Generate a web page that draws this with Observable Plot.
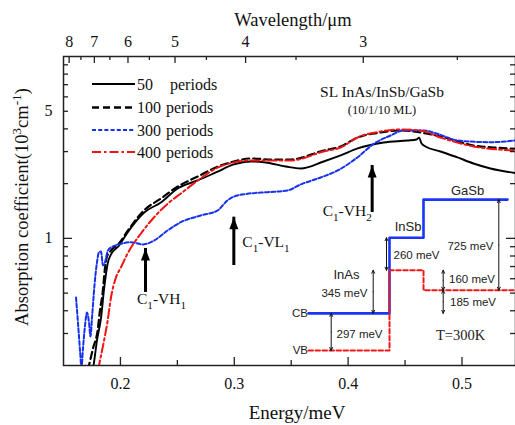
<!DOCTYPE html>
<html><head><meta charset="utf-8">
<script src="https://cdn.jsdelivr.net/npm/d3@7"></script>
<script src="https://cdn.jsdelivr.net/npm/@observablehq/plot@0.6"></script>
<style>
html,body{margin:0;padding:0;background:#fff;}
#wrap{position:relative;width:515px;height:425px;overflow:hidden;}
#wrap svg{position:absolute;left:0;top:0;}
</style></head><body><div id="wrap"></div>
<script>
// ---------- data (photon energy in eV, absorption in 10^3 cm^-1) ----------
const E50 = [0.1755,0.1765,0.1794,0.1829,0.1858,0.1888,0.1917,0.1989,0.2063,0.2209,0.2355,0.2502,0.2677,0.2838,0.2996,0.3145,0.3276,0.3452,0.3583,0.3785,0.3934,0.4083,0.4311,0.4522,0.4601,0.4623,0.4645,0.4680,0.4811,0.4961,0.5101,0.5250,0.5469];
const A50 = [0.19,0.203,0.275,0.363,0.537,0.728,0.816,0.914,1.078,1.388,1.575,1.881,2.081,2.303,2.549,2.647,2.614,2.485,2.423,2.647,2.856,3.121,3.367,3.453,3.497,3.58,3.324,3.201,3.004,2.785,2.581,2.423,2.288];

const E100 = [0.1715,0.1726,0.1759,0.1800,0.1820,0.1844,0.1864,0.1882,0.1917,0.1987,0.2066,0.2206,0.2355,0.2504,0.2680,0.2838,0.2996,0.3145,0.3320,0.3496,0.3785,0.3934,0.4083,0.4285,0.4461,0.4610,0.4811,0.5101,0.5311,0.5469];
const A100 = [0.19,0.203,0.248,0.312,0.401,0.504,0.683,0.795,0.858,0.937,1.105,1.423,1.657,1.929,2.189,2.454,2.647,2.750,2.715,2.715,3.042,3.201,3.587,3.821,3.920,3.845,3.633,3.242,3.148,3.109];

const E300 = [0.1610,0.1627,0.1645,0.1658,0.1671,0.1689,0.1706,0.1724,0.1737,0.1750,0.1772,0.1794,0.1811,0.1829,0.1847,0.1864,0.1890,0.1934,0.1987,0.2092,0.2195,0.2297,0.2414,0.2531,0.2706,0.2853,0.2940,0.2998,0.3116,0.3291,0.3467,0.3583,0.3759,0.3908,0.4081,0.4226,0.4373,0.4487,0.4662,0.4785,0.4961,0.5250,0.5469];
const A300 = [0.473,0.345,0.242,0.195,0.248,0.332,0.391,0.345,0.289,0.363,0.551,0.737,0.837,0.847,0.710,0.737,0.858,0.903,0.926,0.953,0.926,0.974,1.105,1.228,1.336,1.423,1.616,1.699,1.759,1.795,1.834,1.979,2.162,2.362,2.785,3.312,3.679,3.920,3.920,3.758,3.453,3.380,3.453];

const E400 = [0.1806,0.1814,0.1844,0.1888,0.1917,0.1961,0.2004,0.2063,0.2180,0.2294,0.2417,0.2531,0.2680,0.2838,0.2996,0.3145,0.3320,0.3496,0.3785,0.3934,0.4083,0.4285,0.4461,0.4636,0.4811,0.5101,0.5311,0.5469];
const A400 = [0.19,0.203,0.251,0.354,0.473,0.610,0.692,0.826,1.064,1.303,1.555,1.765,2.081,2.423,2.614,2.682,2.682,2.682,3.004,3.160,3.587,3.870,3.970,3.920,3.587,3.201,3.082,3.042];

const seriesNames = ["50", "100", "300", "400"];

// transitions marked by arrows
const transLabels = [["C","1","-VH","1"],["C","1","-VL","1"],["C","1","-VH","2"]];
const transE = [0.222, 0.2996, 0.4211];
const transTip = [0.88, 1.308, 2.516];
const transTail = [0.565, 0.795, 1.555];

// ticks
const energyTicks = [0.2, 0.3, 0.4, 0.5];
const energyMinor = [0.25, 0.35, 0.45];
const lambdaTicks = [8, 7, 6, 5, 4, 3];
const lambdaMinor = [7.5, 6.5, 5.5, 4.5, 3.5, 2.5];
const absLabelTicks = [1, 5];
const absMinor = [0.3,0.4,0.5,0.6,0.7,0.8,0.9,2,3,4,5,6,7,8,9];
const hc = 1.2398; // eV·µm

// band diagram inset (meV)
const layers = ["InAs", "InSb", "GaSb"];
const layerEdges = [0, 81, 115, 199];
const cbLevel = [297, 902, 1207];
const vbLevel = [0, 642, 482];

// ---------- layout ----------
const W = 515, H = 425, mL = 63, mR = 0, mT = 56, mB = 60;
const fh = H - mT - mB, fw = W - mL - mR;
const serif = "'Liberation Serif', 'Times New Roman', serif";
const sans = "'Liberation Sans', Arial, sans-serif";

const styles = [
  {color: "#000", width: 1.9, dash: null},
  {color: "#000", width: 2.2, dash: "7,4"},
  {color: "#1630f0", width: 2, dash: "4,2.2"},
  {color: "#f01414", width: 2, dash: "9,3,2.5,3"}
];
const seriesData = [[E50, A50], [E100, A100], [E300, A300], [E400, A400]].map(([E, A]) => E.map((e, i) => ({E: e, A: A[i]})));

const triHead = {draw(ctx) { ctx.moveTo(0, 0); ctx.lineTo(4.5, 12); ctx.lineTo(-4.5, 12); ctx.closePath(); }};
const idx = transE.map((_, i) => i);
const frameCol = "#222";

const chart = Plot.plot({
  width: W, height: H, marginLeft: mL, marginRight: mR, marginTop: mT, marginBottom: mB,
  style: {fontFamily: serif, background: "transparent", overflow: "visible"},
  x: {domain: [0.15, 0.547], axis: null},
  y: {type: "log", domain: [0.2, 10], axis: null},
  marks: [
    ...seriesData.map((d, i) => Plot.line(d, {x: "E", y: "A", stroke: styles[i].color, strokeWidth: styles[i].width, strokeDasharray: styles[i].dash, curve: "monotone-x", clip: true})),
    // transition arrows
    Plot.ruleX(idx, {x: i => transE[i], y1: i => transTail[i], y2: i => transTip[i], stroke: "#000", strokeWidth: 3, insetTop: 9}),
    Plot.dot(idx, {x: i => transE[i], y: i => transTip[i], symbol: triHead, fill: "#000", stroke: "none"}),
    // frame and ticks
    Plot.frame({stroke: frameCol, strokeWidth: 1.5}),
    Plot.ruleX(energyTicks, {x: d => d, insetTop: fh - 8, stroke: frameCol, strokeWidth: 1.3}),
    Plot.ruleX(energyMinor, {x: d => d, insetTop: fh - 5, stroke: frameCol, strokeWidth: 1.3}),
    Plot.ruleX(lambdaTicks, {x: l => hc / l, insetBottom: fh - 7, stroke: frameCol, strokeWidth: 1.3}),
    Plot.ruleX(lambdaMinor, {x: l => hc / l, insetBottom: fh - 4, stroke: frameCol, strokeWidth: 1.3}),
    Plot.ruleY([1], {y: d => d, insetRight: fw - 9, stroke: frameCol, strokeWidth: 1.3}),
    Plot.ruleY(absMinor, {y: d => d, insetRight: fw - 5, stroke: frameCol, strokeWidth: 1.3}),
    Plot.ruleY([1], {y: d => d, insetLeft: fw - 9, stroke: frameCol, strokeWidth: 1.3}),
    Plot.ruleY(absMinor, {y: d => d, insetLeft: fw - 5, stroke: frameCol, strokeWidth: 1.3}),
    // tick labels
    Plot.text(energyTicks, {x: d => d, frameAnchor: "bottom", lineAnchor: "middle", dy: 18, text: d => d.toFixed(1), fontSize: 16, fill: "#111"}),
    Plot.text(lambdaTicks, {x: l => hc / l, frameAnchor: "top", lineAnchor: "middle", dy: -15, text: d => String(d), fontSize: 16, fill: "#111"}),
    Plot.text(absLabelTicks, {y: d => d, frameAnchor: "left", lineAnchor: "middle", dx: -11, textAnchor: "end", text: d => String(d), fontSize: 16, fill: "#111"})
  ]
});

const inset = Plot.plot({
  width: W, height: H, margin: 0,
  style: {fontFamily: sans, background: "transparent", overflow: "visible"},
  x: {domain: [0, 200], range: [308, 508], axis: null},
  y: {domain: [0, 1207], range: [350, 199.1], axis: null},
  marks: (() => {
    const step = (lv, ext) => lv.flatMap((v, i) => [{x: layerEdges[i], e: v}, {x: layerEdges[i + 1] + (i === lv.length - 1 ? ext : 0), e: v}]);
    const gaps = [
      {x: 22.7, a: vbLevel[0], b: cbLevel[0], lx: 28, ly: 128, anchor: "start"},
      {x: 64.7, a: cbLevel[0], b: vbLevel[1], lx: 59, ly: 458, anchor: "end"},
      {x: 78, a: vbLevel[1], b: cbLevel[1], lx: 85, ly: 760, anchor: "start"},
      {x: 190.3, a: vbLevel[2], b: cbLevel[2], lx: 185, ly: 832, anchor: "end"},
      {x: 134.7, a: vbLevel[2], b: vbLevel[1], lx: 140.5, ly: 566, anchor: "start"},
      {x: 134.7, a: cbLevel[0], b: vbLevel[2], lx: 141.5, ly: 386, anchor: "start"}
    ];
    const arrows = gaps.flatMap(g => [{x: g.x, y1: (g.a + g.b) / 2, y2: g.b}, {x: g.x, y1: (g.a + g.b) / 2, y2: g.a}]);
    const gapText = g => `${Math.abs(g.b - g.a)} meV`;
    return [
      Plot.line(step(cbLevel, 0), {x: "x", y: "e", stroke: "#1a35f5", strokeWidth: 2.6}),
      Plot.line(step(vbLevel, 6), {x: "x", y: "e", stroke: "#f01818", strokeWidth: 2, strokeDasharray: "4.5,2.5"}),
      Plot.arrow(arrows, {x1: "x", x2: "x", y1: "y1", y2: "y2", stroke: "#111", strokeWidth: 1, headLength: 5, headAngle: 50}),
      Plot.text(gaps.filter(g => g.anchor === "start"), {x: "lx", y: "ly", text: gapText, textAnchor: "start", fontSize: 11.5, fill: "#222"}),
      Plot.text(gaps.filter(g => g.anchor === "end"), {x: "lx", y: "ly", text: gapText, textAnchor: "end", fontSize: 11.5, fill: "#222"}),
      Plot.text(layers, {x: [38, 99.5, 159], y: [608, 992, 1274], text: d => d, fontSize: 13, fill: "#222"}),
      Plot.text(["CB", "VB"], {x: [-0.5, -0.5], y: [cbLevel[0], vbLevel[0]], text: d => d, textAnchor: "end", fontSize: 11.5, fill: "#222"}),
      Plot.text(["T=300K"], {x: [152], y: [120], text: d => d, fontSize: 14.5, fill: "#222"})
    ];
  })()
});

const wrap = document.getElementById("wrap");
wrap.appendChild(chart);
wrap.appendChild(inset);

// ---------- text annotations ----------
const svg = d3.select(chart);
const sx = chart.scale("x"), sy = chart.scale("y");

function addText(x, y, s, size, anchor) {
  return svg.append("text").attr("x", x).attr("y", y).attr("text-anchor", anchor || "start")
    .attr("font-size", size).attr("fill", "#111").text(s);
}
function richText(x, y, parts, size, opts = {}) {
  const t = svg.append("text").attr("x", x).attr("y", y).attr("font-size", size).attr("fill", "#111")
    .attr("text-anchor", opts.anchor || "start");
  if (opts.transform) t.attr("transform", opts.transform);
  let shift = 0;
  parts.forEach(([s, k]) => {
    const target = k === 1 ? size * 0.3 : k === -1 ? -size * 0.4 : 0;
    const ts = t.append("tspan").text(s).attr("dy", target - shift);
    if (k !== 0) ts.attr("font-size", size * 0.72);
    shift = target;
  });
  return t;
}

// axis titles
addText(293, 26, "Wavelength/μm", 18.5, "middle");
addText(297, 419, "Energy/meV", 19, "middle");
richText(0, 0, [["Absorption coefficient(10", 0], ["3", -1], ["cm", 0], ["-1", -1], [")", 0]], 18.5,
  {anchor: "middle", transform: "translate(28,207) rotate(-90)"});

// transition labels
const labOff = [[-8, 21], [9, -9], [-49, 13]];
idx.forEach(i => {
  const ax = sx.apply(transE[i]), ay = sy.apply(transTail[i]);
  const p = transLabels[i];
  richText(ax + labOff[i][0], ay + labOff[i][1], [[p[0], 0], [p[1], 1], [p[2], 0], [p[3], 1]], 15.5);
});

// sample title
addText(382, 97, "SL InAs/InSb/GaSb", 15.5, "middle");
addText(382, 114, "(10/1/10 ML)", 12.5, "middle");

// legend
const legY = [84, 107.5, 130, 152];
seriesNames.forEach((n, i) => {
  svg.append("line").attr("x1", 92).attr("x2", 135).attr("y1", legY[i]).attr("y2", legY[i])
    .attr("stroke", styles[i].color).attr("stroke-width", styles[i].width + 0.2).attr("stroke-dasharray", styles[i].dash);
  addText(137, legY[i] + 5.5, n, 16, "start");
  addText(i === 0 ? 170 : 166, legY[i] + 5.5, "periods", 16, "start");
});

// fonts: serif everywhere in the main chart, sans in the band-diagram inset (except T=300K)
svg.selectAll("text").style("font-family", serif).style("font-weight", "normal");
d3.select(inset).selectAll("text").style("font-family", sans);
d3.select(inset).selectAll("text").filter(function () { return this.textContent === "T=300K"; }).style("font-family", serif);
</script></body></html>
